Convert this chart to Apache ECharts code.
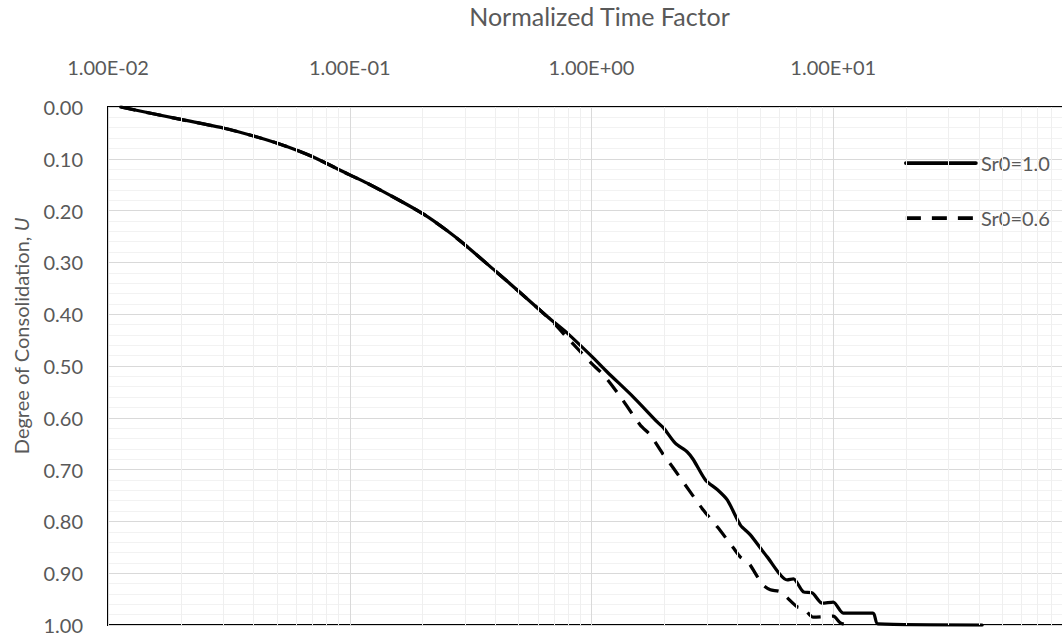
<!DOCTYPE html>
<html><head><meta charset="utf-8">
<script src="https://cdn.jsdelivr.net/npm/echarts@6/dist/echarts.min.js"></script>
<style>html,body{margin:0;padding:0;background:#fff}#c{width:1062px;height:638px}</style>
</head><body><div id="c"></div>
<script>
// ---- data ----
const seriesNames = ['Sr0=1.0', 'Sr0=0.6'];
const timeSr10 = [0.0113, 0.02, 0.0302, 0.04, 0.0502, 0.0608, 0.071, 0.1, 0.118, 0.163, 0.202, 0.25, 0.296, 0.401, 0.509, 0.658, 0.796, 1.0, 1.164, 1.49, 1.87, 1.99, 2.22, 2.49, 2.64, 2.96, 3.32, 3.65, 4.13, 4.54, 5.34, 6.45, 6.84, 7.52, 8.19, 9.01, 10.0, 11.0, 14.6, 15.3, 41.3];
const uSr10 =    [0.0, 0.024, 0.041, 0.056, 0.070, 0.084, 0.097, 0.131, 0.147, 0.182, 0.207, 0.237, 0.264, 0.317, 0.359, 0.405, 0.437, 0.481, 0.512, 0.560, 0.608, 0.620, 0.649, 0.666, 0.681, 0.720, 0.739, 0.759, 0.807, 0.826, 0.869, 0.913, 0.911, 0.936, 0.938, 0.958, 0.956, 0.977, 0.977, 0.998, 1.0];
const timeSr06 = [0.0113, 0.02, 0.0302, 0.04, 0.0502, 0.0608, 0.071, 0.1, 0.118, 0.163, 0.202, 0.25, 0.296, 0.401, 0.509, 0.677, 0.796, 1.0, 1.12, 1.32, 1.59, 1.75, 1.99, 2.18, 2.56, 2.90, 3.32, 3.86, 4.13, 4.46, 4.86, 5.13, 5.49, 6.04, 7.1, 7.52, 8.27, 10.0, 10.7, 11.5];
const uSr06 =    [0.0, 0.024, 0.041, 0.056, 0.070, 0.084, 0.097, 0.131, 0.147, 0.182, 0.207, 0.237, 0.264, 0.317, 0.359, 0.411, 0.446, 0.495, 0.517, 0.560, 0.614, 0.633, 0.672, 0.697, 0.743, 0.778, 0.811, 0.851, 0.869, 0.880, 0.907, 0.923, 0.932, 0.936, 0.965, 0.967, 0.985, 0.983, 0.996, 1.0];
const xTickLabels = ['1.00E-02', '1.00E-01', '1.00E+00', '1.00E+01', '1.00E+02'];
const yTickLabels = ['0.00','0.10','0.20','0.30','0.40','0.50','0.60','0.70','0.80','0.90','1.00'];
const xDecades = [0.01, 0.1, 1, 10];
const minorMultipliers = [2, 3, 4, 5, 6, 7, 8, 9];

// ---- build ----
const FONT = 'Lato';
const GREY = '#595959';
const pairs = (xs, ys) => xs.map((x, i) => [x, ys[i]]);
const minorX = [];
xDecades.forEach(d => minorMultipliers.forEach(m => minorX.push({ xAxis: d * m })));

const chart = echarts.init(document.getElementById('c'), null, { renderer: 'svg' });
chart.setOption({
  animation: false,
  backgroundColor: '#fff',
  textStyle: { fontFamily: FONT },
  grid: { left: 108, top: 107, right: -13, bottom: 13, show: true, borderColor: '#000', borderWidth: 2, containLabel: false, outerBoundsMode: 'none' },
  legend: {
    data: seriesNames, orient: 'vertical', left: 899, top: 148, itemGap: 35,
    itemWidth: 70, itemHeight: 20,
    textStyle: { fontFamily: FONT, fontSize: 20, color: GREY },
    itemStyle: { opacity: 0 },
    lineStyle: { width: 3.75 }
  },
  xAxis: {
    type: 'log', logBase: 10, min: 0.01, max: 100, position: 'top',
    name: 'Normalized Time Factor', nameLocation: 'middle', nameGap: 79,
    nameTextStyle: { fontFamily: FONT, fontSize: 25, color: GREY, padding: [0, 0, 0, 16] },
    axisLine: { show: false }, axisTick: { show: false },
    axisLabel: {
      fontFamily: FONT, fontSize: 20, color: GREY, margin: 30, showMaxLabel: false,
      formatter: v => xTickLabels[Math.round(Math.log10(v)) + 2]
    },
    splitLine: { show: true, lineStyle: { color: '#d9d9d9', width: 1 } },
    minorTick: { show: false }, minorSplitLine: { show: false }
  },
  yAxis: {
    type: 'value', inverse: true, min: 0, max: 1, interval: 0.1,
    axisLine: { show: false }, axisTick: { show: false },
    axisLabel: {
      fontFamily: FONT, fontSize: 20, color: GREY, margin: 25,
      formatter: v => yTickLabels[Math.round(v * 10)]
    },
    splitLine: { show: true, lineStyle: { color: '#d9d9d9', width: 1 } },
    minorTick: { show: false, splitNumber: 5 },
    minorSplitLine: { show: true, lineStyle: { color: '#f2f2f2', width: 1 } }
  },
  graphic: [{
    type: 'text', x: 21, y: 336, rotation: Math.PI / 2,
    style: {
      text: 'Degree of Consolidation, {i|U}', align: 'center', verticalAlign: 'middle',
      fontFamily: FONT, fontSize: 20, fill: GREY,
      rich: { i: { fontFamily: FONT, fontSize: 20, fontStyle: 'italic', fill: GREY } }
    }
  }],
  series: [
    {
      name: 'minor-grid', type: 'line', data: [[1, 0.5]], symbol: 'none', silent: true, z: -1,
      lineStyle: { opacity: 0 },
      markLine: { silent: true, symbol: 'none', label: { show: false }, animation: false,
        lineStyle: { color: '#efefef', width: 1, type: 'solid' }, data: minorX }
    },
    {
      name: seriesNames[0], type: 'line', data: pairs(timeSr10, uSr10), symbol: 'none', smooth: 0.25,
      lineStyle: { color: '#000', width: 3.25, cap: 'round', join: 'round' }, itemStyle: { color: '#000' }
    },
    {
      name: seriesNames[1], type: 'line', data: pairs(timeSr06, uSr06), symbol: 'none', smooth: 0.25,
      lineStyle: { color: '#000', width: 3.25, type: [15, 11], cap: 'butt', join: 'round' }, itemStyle: { color: '#000' }
    }
  ]
});
</script></body></html>
